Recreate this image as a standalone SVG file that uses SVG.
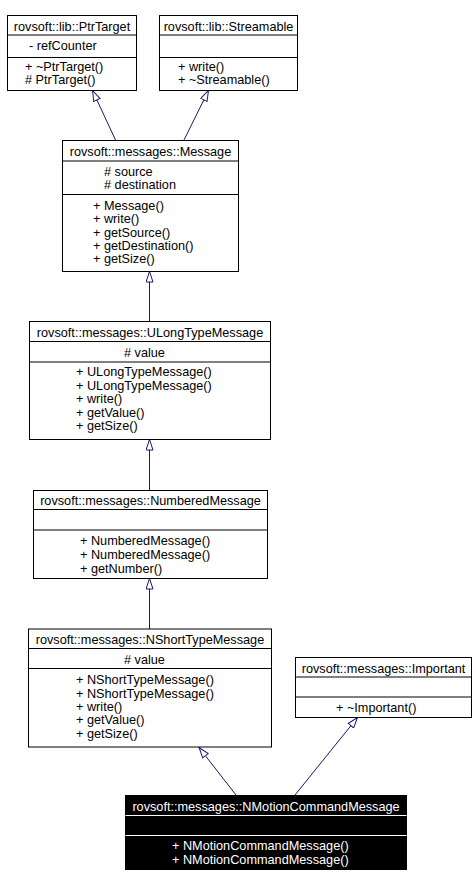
<svg xmlns="http://www.w3.org/2000/svg" width="476" height="886" viewBox="0 0 476 886">
<style>
.box{fill:#fff;stroke:#000;stroke-width:1}
.sep{stroke:#000;stroke-width:1}
.cur{fill:#000;stroke:#000;stroke-width:1}
.csep{stroke:#fff;stroke-width:1}
text{font-family:"Liberation Sans",Arial,Helvetica,sans-serif;font-size:12.7px;fill:#000}
.t{text-anchor:middle}
.w{fill:#fff}
.edge{fill:none;stroke:#191970;stroke-width:1}
</style>
<defs>
<marker id="inh" markerUnits="userSpaceOnUse" markerWidth="14" markerHeight="10" refX="11" refY="4" orient="auto" viewBox="0 0 14 10">
<path d="M0.5,0.5 L11,4 L0.5,7.5 Z" fill="#fff" stroke="#191970" stroke-width="1"/>
</marker>
</defs>
<rect width="476" height="886" fill="#fff"/>
<g id="edges">
<line class="edge" x1="115.5" y1="140" x2="92.5" y2="90.5" marker-end="url(#inh)"/>
<line class="edge" x1="184" y1="140" x2="208.5" y2="90.5" marker-end="url(#inh)"/>
<line class="edge" x1="149.5" y1="321.5" x2="149.5" y2="271.5" marker-end="url(#inh)"/>
<line class="edge" x1="149.5" y1="490.5" x2="149.5" y2="439.5" marker-end="url(#inh)"/>
<line class="edge" x1="149.5" y1="629" x2="149.5" y2="578.5" marker-end="url(#inh)"/>
<line class="edge" x1="236" y1="795" x2="199" y2="747.5" marker-end="url(#inh)"/>
<line class="edge" x1="295" y1="795" x2="357.5" y2="717.5" marker-end="url(#inh)"/>
</g>
<g id="PtrTarget">
<rect class="box" x="7.5" y="15.5" width="129" height="75"/>
<line class="sep" x1="7.5" y1="35" x2="136.5" y2="35"/>
<line class="sep" x1="7.5" y1="57.5" x2="136.5" y2="57.5"/>
<text class="t" x="72" y="31">rovsoft::lib::PtrTarget</text>
<text x="29" y="50">- refCounter</text>
<text x="25" y="71">+ ~PtrTarget()</text>
<text x="25" y="84">#  PtrTarget()</text>
</g>
<g id="Streamable">
<rect class="box" x="159.5" y="15.5" width="138" height="75"/>
<line class="sep" x1="159.5" y1="35" x2="297.5" y2="35"/>
<line class="sep" x1="159.5" y1="57.5" x2="297.5" y2="57.5"/>
<text class="t" x="228.5" y="31">rovsoft::lib::Streamable</text>
<text x="178" y="71">+ write()</text>
<text x="178" y="84">+ ~Streamable()</text>
</g>
<g id="Message">
<rect class="box" x="62.5" y="140.5" width="176" height="131"/>
<line class="sep" x1="62.5" y1="161" x2="238.5" y2="161"/>
<line class="sep" x1="62.5" y1="194.5" x2="238.5" y2="194.5"/>
<text class="t" x="150.5" y="156">rovsoft::messages::Message</text>
<text x="104" y="176">#  source</text>
<text x="104" y="189">#  destination</text>
<text x="93" y="210">+ Message()</text>
<text x="93" y="223">+ write()</text>
<text x="93" y="236.5">+ getSource()</text>
<text x="93" y="250">+ getDestination()</text>
<text x="93" y="263">+ getSize()</text>
</g>
<g id="ULongTypeMessage">
<rect class="box" x="29.5" y="321.5" width="241" height="118"/>
<line class="sep" x1="29.5" y1="341.5" x2="270.5" y2="341.5"/>
<line class="sep" x1="29.5" y1="362" x2="270.5" y2="362"/>
<text class="t" x="150" y="337">rovsoft::messages::ULongTypeMessage</text>
<text x="124" y="357">#  value</text>
<text x="76" y="376">+ ULongTypeMessage()</text>
<text x="76" y="389.5">+ ULongTypeMessage()</text>
<text x="76" y="403">+ write()</text>
<text x="76" y="416.5">+ getValue()</text>
<text x="76" y="430">+ getSize()</text>
</g>
<g id="NumberedMessage">
<rect class="box" x="33.5" y="490.5" width="234" height="88"/>
<line class="sep" x1="33.5" y1="509.5" x2="267.5" y2="509.5"/>
<line class="sep" x1="33.5" y1="530" x2="267.5" y2="530"/>
<text class="t" x="150.5" y="505">rovsoft::messages::NumberedMessage</text>
<text x="80" y="545">+ NumberedMessage()</text>
<text x="80" y="559">+ NumberedMessage()</text>
<text x="80" y="572.5">+ getNumber()</text>
</g>
<g id="NShortTypeMessage">
<rect class="box" x="28.5" y="629" width="243" height="118"/>
<line class="sep" x1="28.5" y1="648.5" x2="271.5" y2="648.5"/>
<line class="sep" x1="28.5" y1="668.5" x2="271.5" y2="668.5"/>
<text class="t" x="150" y="644">rovsoft::messages::NShortTypeMessage</text>
<text x="124" y="664">#  value</text>
<text x="76" y="684">+ NShortTypeMessage()</text>
<text x="76" y="697.5">+ NShortTypeMessage()</text>
<text x="76" y="711">+ write()</text>
<text x="76" y="724">+ getValue()</text>
<text x="76" y="737.5">+ getSize()</text>
</g>
<g id="Important">
<rect class="box" x="295.5" y="657.5" width="176" height="60"/>
<line class="sep" x1="295.5" y1="677" x2="471.5" y2="677"/>
<line class="sep" x1="295.5" y1="697" x2="471.5" y2="697"/>
<text class="t" x="383.5" y="672.5">rovsoft::messages::Important</text>
<text x="336" y="712">+ ~Important()</text>
</g>
<g id="NMotionCommandMessage">
<rect class="cur" x="125.5" y="795.5" width="281" height="74"/>
<line class="csep" x1="125.5" y1="815.5" x2="406.5" y2="815.5"/>
<line class="csep" x1="125.5" y1="835.5" x2="406.5" y2="835.5"/>
<text class="t w" x="266" y="811">rovsoft::messages::NMotionCommandMessage</text>
<text class="w" x="172" y="850">+ NMotionCommandMessage()</text>
<text class="w" x="172" y="863.5">+ NMotionCommandMessage()</text>
</g>
</svg>
